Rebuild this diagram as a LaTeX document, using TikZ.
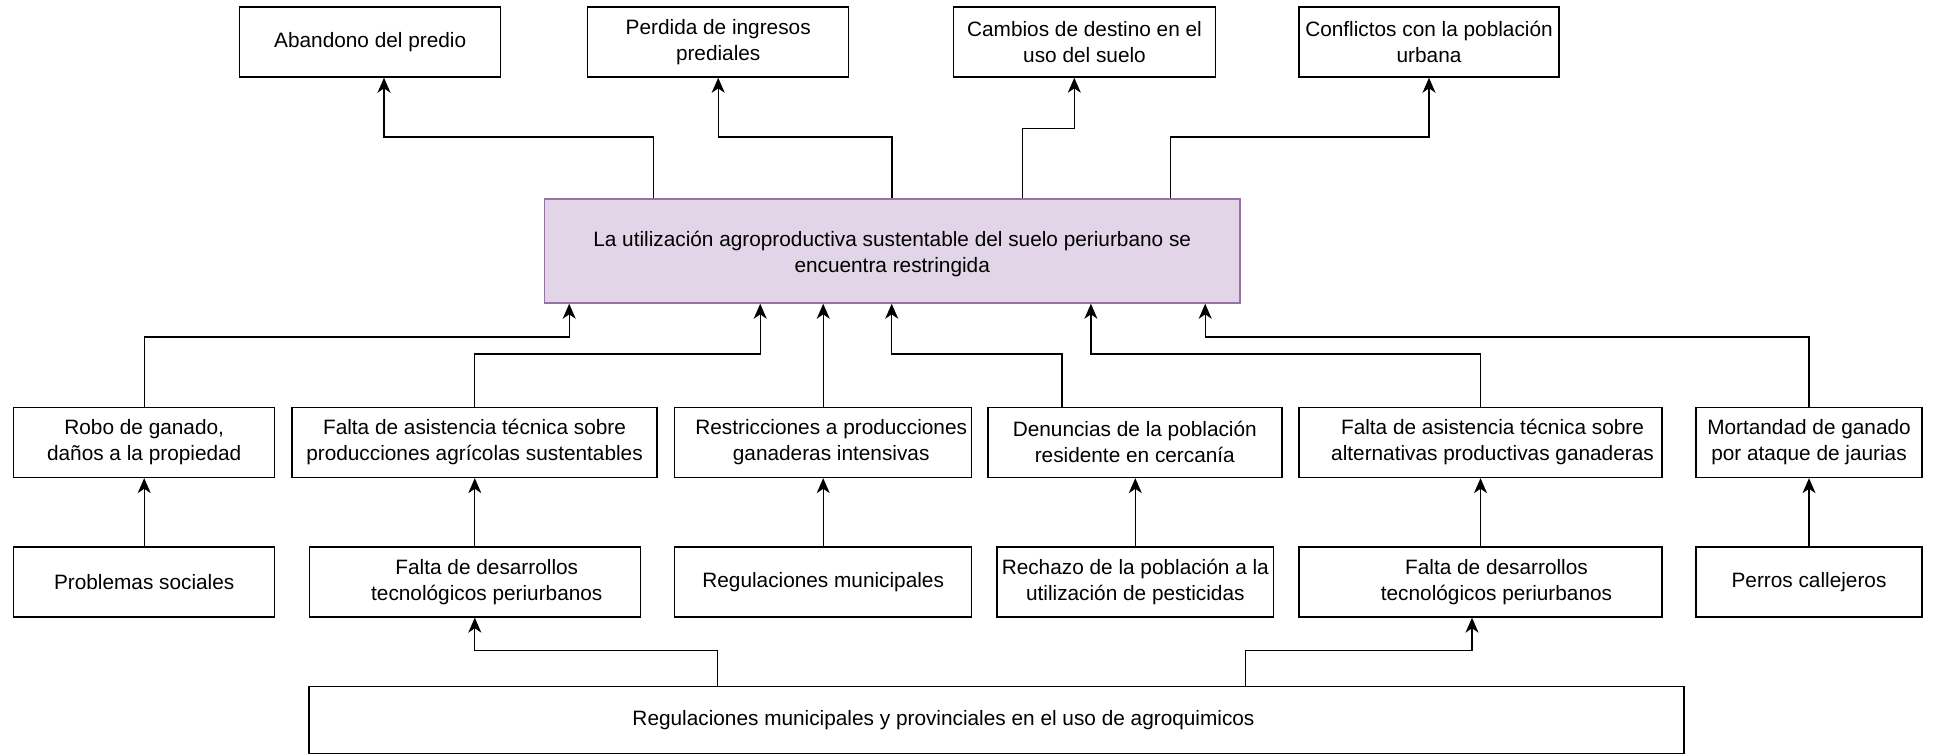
\documentclass[tikz,border=0pt]{standalone}
\usepackage{fontspec}
\setmainfont{Liberation Sans}
\usetikzlibrary{arrows.meta}
\definecolor{mainfill}{HTML}{E1D5E7}
\definecolor{mainline}{HTML}{9673A6}
\begin{document}
\begin{tikzpicture}[x=0.5pt,y=-0.5pt,font=\fontsize{10.4pt}{13pt}\selectfont,
  box/.style={draw=black,line width=0.75pt,minimum height=35pt,inner sep=0pt,align=center},
  arr/.style={draw=black,line width=0.65pt,-{Stealth[length=7.5pt,width=6.5pt,inset=2.2pt]}},
  every label/.style={align=center,inner sep=0pt}]
\useasboundingbox (0,0) rectangle (1937,755);

% top row (effects)
\node[box,minimum width=130.5pt] (abandono) at (370.2,42) {Abandono del predio};
\node[box,minimum width=130.5pt] (perdida) at (718.2,42) {Perdida de ingresos\\prediales};
\node[box,minimum width=131pt] (cambios) at (1084.5,42) {Cambios de destino en el\\uso del suelo};
\node[box,minimum width=130pt] (conflictos) at (1429,42) {Conflictos con la población\\urbana};

% central problem
\node[box,fill=mainfill,draw=mainline,minimum width=347.75pt,minimum height=52pt,
  label={[yshift=-1.5pt]center:La utilización agroproductiva sustentable del suelo periurbano se\\encuentra restringida}] (main) at (892.2,251) {};

% middle row (causes)
\node[box,minimum width=130.5pt] (robo) at (144.2,442.4) {Robo de ganado,\\daños a la propiedad};
\node[box,minimum width=182.5pt] (asistagr) at (474.5,442.4) {Falta de asistencia técnica sobre\\producciones agrícolas sustentables};
\node[box,minimum width=148.5pt,label={[xshift=4pt]center:Restricciones a producciones\\ganaderas intensivas}] (restric) at (823.2,442.4) {};
\node[box,minimum width=147pt] (denuncias) at (1134.8,442.4) {Denuncias de la población\\residente en cercanía};
\node[box,minimum width=181.5pt,label={[xshift=6pt]center:Falta de asistencia técnica sobre\\alternativas productivas ganaderas}] (asistgan) at (1480.5,442.4) {};
\node[box,minimum width=113pt] (mortandad) at (1809,442.4) {Mortandad de ganado\\por ataque de jaurias};

% lower row (root causes)
\node[box,minimum width=130.5pt] (problemas) at (144.2,581.9) {Problemas sociales};
\node[box,minimum width=165.5pt,label={[xshift=6pt]center:Falta de desarrollos\\tecnológicos periurbanos}] (desarrL) at (474.8,581.9) {};
\node[box,minimum width=148.5pt] (regmun) at (823.2,581.9) {Regulaciones municipales};
\node[box,minimum width=138.3pt] (rechazo) at (1135.3,581.9) {Rechazo de la población a la\\utilización de pesticidas};
\node[box,minimum width=181.5pt,label={[xshift=8pt]center:Falta de desarrollos\\tecnológicos periurbanos}] (desarrR) at (1480.5,581.9) {};
\node[box,minimum width=113pt] (perros) at (1809,581.9) {Perros callejeros};

% bottom box
\node[box,minimum width=687.5pt,minimum height=33.4pt,label={[xshift=-26.5pt]center:Regulaciones municipales y provinciales en el uso de agroquimicos}] (reg) at (996.5,720) {};

% connectors to effects
\draw[arr] ([xshift=55pt]main.north west) -- ++(0,-61.3) -| ([xshift=6.9pt]abandono.south);
\draw[arr] ([xshift=174.1pt]main.north west) -- ++(0,-61.3) -| (perdida.south);
\draw[arr] ([xshift=239.4pt]main.north west) -- ++(0,-69.7) -| ([xshift=-5.1pt]cambios.south);
\draw[arr] ([xshift=313.25pt]main.north west) -- ++(0,-61.3) -| (conflictos.south);

% connectors from causes to central problem
\draw[arr] (robo.north) -- ++(0,-69.8) -| ([xshift=12.75pt]main.south west);
\draw[arr] (asistagr.north) -- ++(0,-52.8) -| ([xshift=108.25pt]main.south west);
\draw[arr] (restric.north) -- (restric.north |- main.south);
\draw[arr] ([xshift=-36.4pt]denuncias.north) -- ++(0,-52.8) -| ([xshift=174pt]main.south west);
\draw[arr] (asistgan.north) -- ++(0,-52.8) -| ([xshift=273.6pt]main.south west);
\draw[arr] (mortandad.north) -- ++(0,-69.8) -| ([xshift=330.75pt]main.south west);

% connectors from root causes
\draw[arr] (problemas.north) -- (robo.south);
\draw[arr] (desarrL.north) -- (desarrL.north |- asistagr.south);
\draw[arr] (regmun.north) -- (restric.south);
\draw[arr] (rechazo.north) -- (rechazo.north |- denuncias.south);
\draw[arr] (desarrR.north) -- (asistgan.south);
\draw[arr] (perros.north) -- (mortandad.south);

% connectors from bottom box
\draw[arr] ([xshift=204.5pt]reg.north west) -- ++(0,-35.7) -| (desarrL.south);
\draw[arr] ([xshift=468.5pt]reg.north west) -- ++(0,-35.7) -| ([xshift=-4.25pt]desarrR.south);
\end{tikzpicture}
\end{document}
